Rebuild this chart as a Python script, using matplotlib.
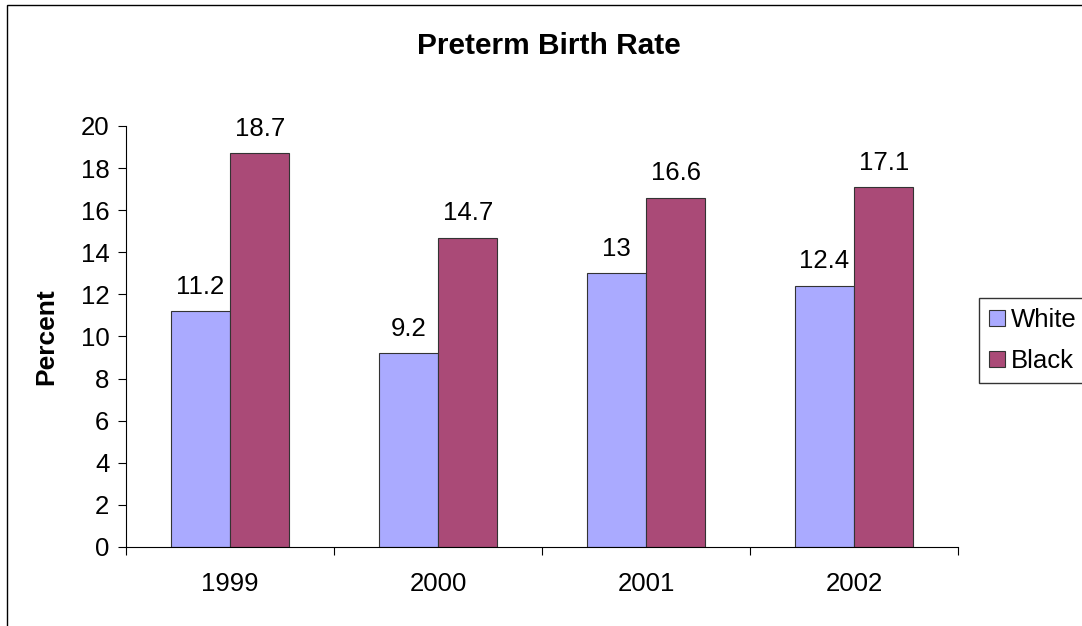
import matplotlib.pyplot as plt
import numpy as np
from matplotlib.patches import Rectangle

plt.rcParams['font.family'] = ['Liberation Sans', 'DejaVu Sans']

years = ["1999", "2000", "2001", "2002"]
white = [11.2, 9.2, 13, 12.4]
black = [18.7, 14.7, 16.6, 17.1]
white_labels = ["11.2", "9.2", "13", "12.4"]
black_labels = ["18.7", "14.7", "16.6", "17.1"]

fs = 18.5

fig = plt.figure(figsize=(10.82, 6.26), dpi=100)
ax = fig.add_axes([126 / 1082, 1 - 547 / 626, (958 - 126) / 1082, (547 - 126) / 626])

# outer chart border (right/bottom run past the image)
fig.patches.append(Rectangle((7 / 1082, -0.1), 1.2, 1.1 - 5 / 626, transform=fig.transFigure,
                             fill=False, edgecolor="black", linewidth=1, clip_on=False))

x = np.arange(len(years))
w = 0.285
b1 = ax.bar(x - w / 2, white, w, color="#AAAAFF", edgecolor="#333333", linewidth=0.8, label="White")
b2 = ax.bar(x + w / 2, black, w, color="#AA4A77", edgecolor="#333333", linewidth=0.8, label="Black")
ax.bar_label(b1, labels=white_labels, padding=9, fontsize=fs)
ax.bar_label(b2, labels=black_labels, padding=9, fontsize=fs)

ax.set_xlim(-0.5, len(years) - 0.5)
ax.set_ylim(0, 20)
ax.set_yticks(range(0, 21, 2))
ax.set_xticks(x)
ax.set_xticklabels(years)
ax.set_xticks(np.arange(-0.5, len(years), 1), minor=True)
ax.tick_params(axis="x", which="major", length=0, pad=18, labelsize=fs)
ax.tick_params(axis="x", which="minor", length=6, width=0.8, direction="out")
ax.tick_params(axis="y", length=6, width=0.8, labelsize=fs, pad=6)
for s in ["top", "right"]:
    ax.spines[s].set_visible(False)
for s in ["left", "bottom"]:
    ax.spines[s].set_linewidth(0.8)

ax.set_ylabel("Percent", fontsize=19, fontweight="bold", labelpad=16)
fig.text(549 / 1082, 1 - 46 / 626, "Preterm Birth Rate", ha="center", va="center",
         fontsize=21.5, fontweight="bold")

leg = ax.legend(loc="upper left", bbox_to_anchor=(979 / 1082, 1 - 298 / 626),
                bbox_transform=fig.transFigure, fontsize=fs, frameon=True, fancybox=False,
                edgecolor="black", handlelength=0.6, handleheight=0.6, handletextpad=0.25,
                borderpad=0.4, labelspacing=0.65, borderaxespad=0)
leg.get_frame().set_linewidth(1)

fig.savefig("out.png", dpi=100)
